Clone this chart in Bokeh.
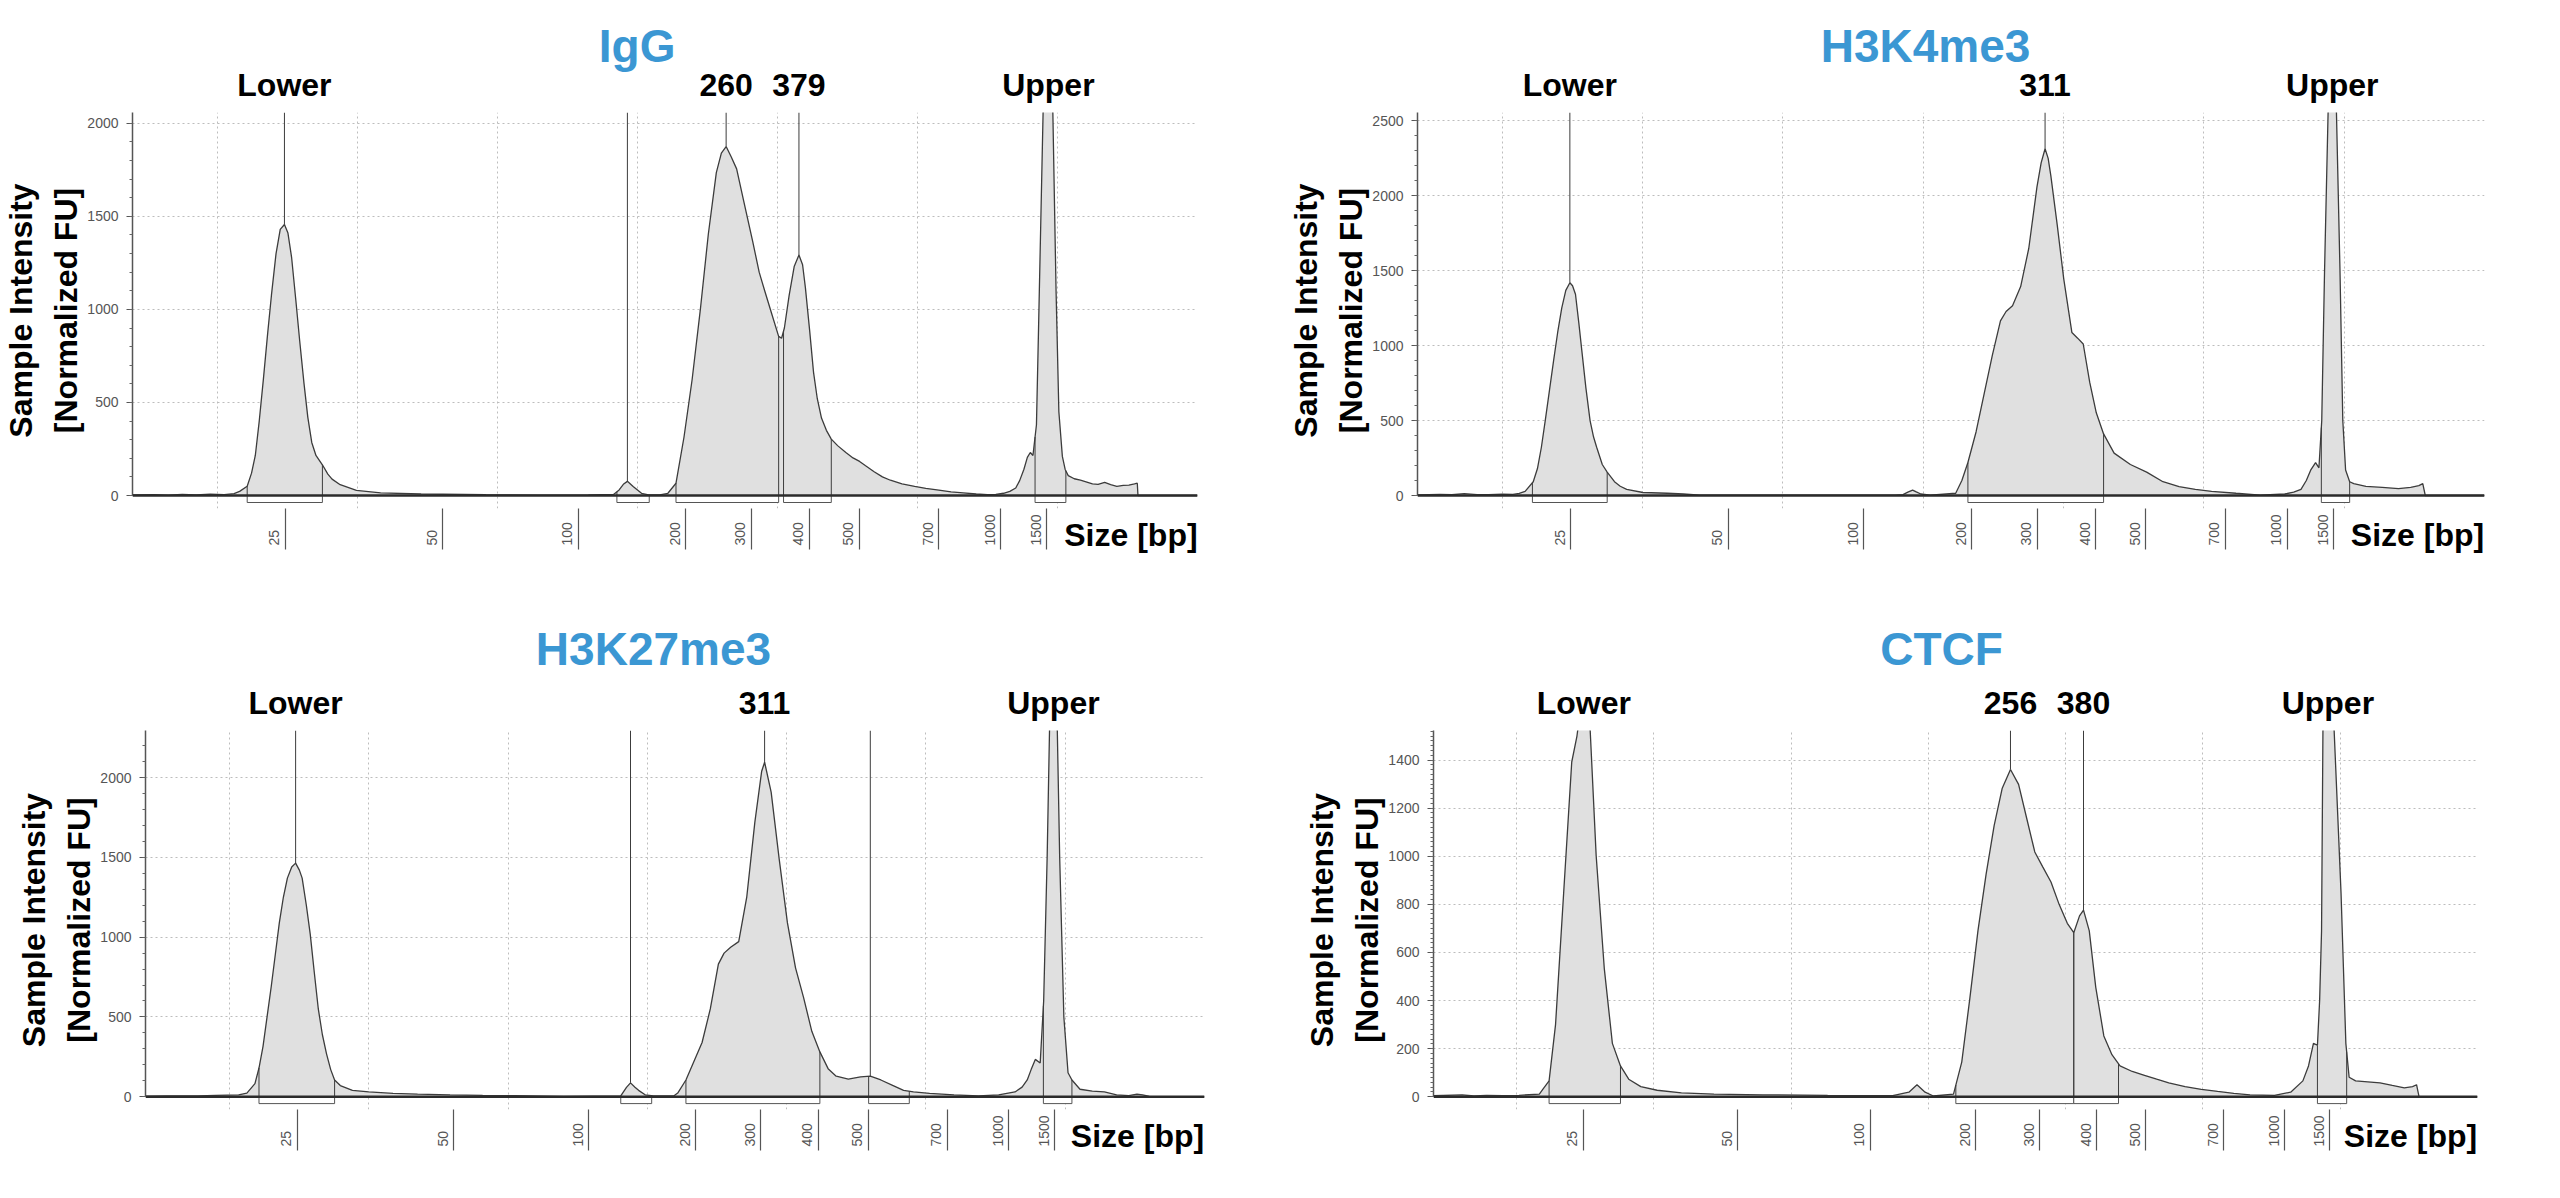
import math

import numpy as np
from bokeh.embed import file_html
from bokeh.layouts import column, row
from bokeh.models import FixedTicker, LinearAxis, Range1d, SingleIntervalTicker, Span
from bokeh.plotting import figure
from bokeh.resources import INLINE

FONT = "Liberation Sans"
TITLE_BLUE = "#3b97d3"
TRACE = "#3c3c3c"
T_START, T_END = 3.95, 80.0

# ladder: fragment size (bp) and its migration position on the time axis
LADDER_BP = [25, 50, 100, 200, 300, 400, 500, 700, 1000, 1500]
LADDER_TIME = [14.86, 26.1, 35.77, 43.45, 48.12, 52.28, 55.84, 61.52, 65.95, 69.25]

IGG_TIME = [3.95, 5.5, 6.5, 7.5, 8.5, 9.5, 10.5, 11.2, 11.6, 12.14, 12.45, 12.72, 13.0, 13.29,
            13.6, 13.87, 14.2, 14.5, 14.8, 15.05, 15.31, 15.6, 15.89, 16.2, 16.47, 16.75, 17.05,
            17.51, 17.9, 18.2, 18.78, 19.94, 21.67, 24.56, 29.18, 33.0, 36.5, 38.3, 38.7, 39.0,
            39.29, 39.7, 40.3, 40.8, 41.6, 42.18, 42.76, 43.33, 43.91, 44.49, 45.07, 45.64, 46.0,
            46.34, 46.7, 47.09, 47.6, 48.24, 48.7, 49.11, 49.6, 50.09, 50.3, 50.5, 50.84, 51.2,
            51.54, 51.8, 52.0, 52.3, 52.58, 52.85, 53.15, 53.5, 53.85, 54.3, 54.89, 55.4, 55.87,
            56.3, 56.91, 57.5, 58.07, 58.9, 59.8, 60.6, 61.53, 62.4, 63.27, 64.2, 65.0, 65.6,
            66.15, 66.6, 67.02, 67.3, 67.6, 67.85, 68.06, 68.25, 68.5, 68.65, 69.35, 69.9, 70.1,
            70.35, 70.55, 70.77, 71.2, 71.64, 72.1, 72.5, 72.9, 73.37, 73.8, 74.24, 74.7, 75.1,
            75.5, 75.7, 75.75, 80.0]
IGG_FU = [3, 4, 2, 6, 3, 7, 5, 10, 22, 50, 120, 215, 400, 620,
          870, 1075, 1300, 1430, 1456, 1410, 1280, 1060, 830, 600, 420, 285, 215,
          165, 115, 88, 58, 27, 14, 8, 4, 2, 3, 6, 30, 60,
          76, 48, 12, 3, 3, 12, 66, 313, 622, 993, 1405, 1735, 1840,
          1875, 1820, 1755, 1580, 1364, 1200, 1096, 975, 855, 845, 900, 1075, 1230,
          1292, 1240, 1117, 890, 663, 520, 416, 350, 303, 268, 231, 202, 183,
          160, 128, 100, 82, 62, 49, 38, 29, 20, 14, 8, 4, 6,
          12, 22, 40, 80, 140, 205, 231, 215, 380, 900, 3400, 1100, 450,
          210, 140, 107, 90, 82, 72, 62, 60, 70, 58, 49, 54, 56,
          62, 66, 0, 0]
IGG_PEAK_TIME = [14.8, 39.29, 46.34, 51.54, 69.35]
IGG_PEAK_LABEL = ["Lower", "", "260", "379", "Upper"]
IGG_REGION_START = [12.14, 38.54, 42.76, 50.44, 68.4]
IGG_REGION_END = [17.51, 40.85, 50.09, 53.85, 70.6]

H3K4_TIME = [3.95, 5.54, 6.4, 7.28, 8.2, 9.02, 10.0, 10.75, 11.2, 11.62, 12.2, 12.5, 12.78,
             13.07, 13.36, 13.65, 13.94, 14.23, 14.52, 14.81, 15.0, 15.21, 15.45, 15.67, 15.95,
             16.25, 16.5, 16.72, 17.12, 17.47, 17.99, 18.4, 18.86, 20.02, 21.75, 22.91, 24.07,
             30.0, 38.0, 38.55, 38.9, 39.24, 39.5, 39.82, 40.5, 42.31, 42.75, 43.18, 43.76, 44.34,
             44.92, 45.5, 45.9, 46.36, 46.94, 47.52, 48.1, 48.4, 48.68, 48.9, 49.09, 49.55, 50.01,
             50.59, 51.0, 51.4, 51.86, 52.33, 52.85, 53.6, 54.76, 55.92, 57.08, 58.23, 59.39,
             60.55, 62.29, 64.02, 65.76, 66.4, 66.92, 67.3, 67.61, 67.96, 68.2, 68.4, 68.6, 69.15,
             69.7, 69.9, 70.1, 70.39, 70.68, 71.55, 72.71, 73.87, 74.74, 75.32, 75.6, 75.78, 80.0]
H3K4_FU = [4, 8, 5, 12, 6, 6, 9, 8, 14, 28, 92, 180, 322,
           510, 705, 900, 1088, 1250, 1369, 1420, 1400, 1343, 1150, 960, 720,
           500, 390, 322, 207, 156, 92, 62, 41, 20, 15, 10, 3,
           2, 3, 6, 22, 36, 24, 10, 3, 15, 100, 220, 424, 680,
           935, 1165, 1228, 1267, 1394, 1650, 2058, 2220, 2314, 2250, 2135, 1803, 1446,
           1088, 1050, 1011, 756, 552, 411, 283, 207, 156, 92, 59, 41,
           28, 15, 3, 10, 22, 41, 100, 169, 220, 185, 500, 1500, 3800,
           1500, 500, 170, 92, 79, 61, 54, 46, 54, 66, 79, 0, 0]
H3K4_PEAK_TIME = [14.81, 48.68, 69.15]
H3K4_PEAK_LABEL = ["Lower", "311", "Upper"]
H3K4_REGION_START = [12.14, 43.18, 68.37]
H3K4_REGION_END = [17.47, 52.85, 70.39]

H3K27_TIME = [3.95, 5.5, 7.72, 9.0, 10.64, 11.23, 11.81, 12.1, 12.39, 12.68, 12.98, 13.27, 13.56,
              13.85, 14.14, 14.45, 14.73, 15.0, 15.2, 15.5, 15.78, 16.07, 16.36, 16.65, 16.95,
              17.25, 17.53, 17.94, 18.81, 19.98, 21.73, 23.49, 25.82, 28.16, 30.49, 34.0, 38.08,
              38.49, 38.78, 39.1, 39.36, 39.83, 40.42, 41.88, 42.17, 42.76, 43.34, 43.92, 44.51,
              45.09, 45.5, 45.97, 46.55, 47.13, 47.71, 48.2, 48.41, 48.88, 49.46, 50.05, 50.63,
              51.21, 51.8, 52.38, 52.97, 53.55, 54.42, 55.3, 56.0, 56.76, 57.64, 58.39, 59.1,
              60.26, 62.01, 63.77, 65.22, 66.39, 66.9, 67.27, 67.55, 67.85, 68.2, 68.45, 68.7,
              69.15, 69.6, 69.9, 70.2, 70.48, 71.06, 71.94, 72.81, 73.69, 74.56, 75.15, 75.56,
              76.03, 80.0]
H3K27_FU = [3, 5, 5, 8, 12, 23, 82, 180, 316, 500, 691, 890, 1089,
            1250, 1370, 1440, 1464, 1420, 1370, 1200, 1019, 780, 550, 390, 269,
            170, 105, 70, 40, 30, 21, 16, 12, 9, 7, 2, 5,
            59, 87, 60, 40, 12, 5, 5, 23, 105, 222, 340, 550,
            831, 900, 937, 972, 1253, 1721, 2040, 2096, 1909, 1487, 1089, 808,
            621, 410, 281, 176, 129, 110, 124, 129, 105, 70, 40, 30,
            21, 12, 5, 12, 30, 60, 105, 170, 234, 211, 600, 1500,
            3600, 1500, 500, 150, 105, 47, 35, 30, 12, 7, 16, 12,
            2, 0]
H3K27_PEAK_TIME = [14.73, 38.78, 48.41, 56.0, 69.15]
H3K27_PEAK_LABEL = ["Lower", "", "311", "", "Upper"]
H3K27_REGION_START = [12.1, 38.08, 42.76, 55.88, 68.43]
H3K27_REGION_END = [17.53, 40.3, 52.38, 58.8, 70.48]

CTCF_TIME = [3.95, 6.04, 6.9, 7.81, 9.0, 10.18, 11.66, 11.95, 12.37, 12.84, 13.43, 14.02, 14.4,
             14.9, 15.35, 15.8, 16.39, 16.98, 17.57, 18.17, 19.05, 20.24, 22.01, 24.38, 27.93,
             32.66, 37.4, 38.58, 39.17, 39.76, 40.36, 41.83, 42.43, 43.02, 43.61, 44.2, 44.79,
             45.38, 45.98, 46.57, 47.16, 47.75, 48.34, 48.93, 49.53, 50.12, 50.59, 51.01, 51.3,
             51.72, 52.19, 52.78, 53.37, 53.96, 54.85, 55.74, 56.63, 57.51, 58.7, 59.88, 61.07,
             62.25, 63.43, 65.21, 66.39, 67.28, 67.69, 68.05, 68.34, 68.5, 68.64, 68.75, 69.1,
             69.5, 70.06, 70.41, 70.65, 71.12, 72.01, 72.9, 73.79, 74.67, 75.27, 75.56, 75.74,
             80.0]
CTCF_FU = [4, 8, 3, 6, 4, 6, 11, 34, 66, 300, 846, 1392, 1500,
           1720, 1540, 1002, 534, 222, 128, 73, 42, 27, 16, 11, 8,
           6, 5, 19, 50, 19, 3, 11, 144, 409, 690, 924, 1127,
           1283, 1361, 1299, 1158, 1018, 955, 893, 799, 721, 682, 752, 776,
           690, 456, 253, 175, 128, 105, 89, 73, 58, 42, 31, 22,
           14, 8, 6, 19, 66, 128, 222, 214, 400, 690, 1600, 2800,
           1600, 846, 222, 81, 66, 62, 58, 47, 37, 42, 50, 0,
           0]
CTCF_PEAK_TIME = [14.9, 45.98, 51.3, 69.1]
CTCF_PEAK_LABEL = ["Lower", "256", "380", "Upper"]
CTCF_REGION_START = [12.37, 42.0, 50.59, 68.34]
CTCF_REGION_END = [17.57, 50.59, 53.85, 70.47]


def bare_axis(ticks, labels, **kw):
    """Axis that only shows text labels at the given positions."""
    return LinearAxis(ticker=FixedTicker(ticks=list(ticks)),
                      major_label_overrides=dict(zip(ticks, labels)),
                      axis_line_color=None, major_tick_line_color=None,
                      minor_tick_line_color=None, major_tick_in=0, major_tick_out=0,
                      major_label_text_font=FONT, **kw)


def make_panel(name, time, fu, peak_time, peak_label, reg_start, reg_end, y_top, y_step,
               y_minor, height, left, top, baseline, frame_w, title_standoff):
    plot_px = baseline - top
    per_px = y_top / plot_px
    frame_h = plot_px + 13
    y_start = -13 * per_px
    width = left + frame_w + 2
    p = figure(width=width, height=height, output_backend="svg", toolbar_location=None,
               x_range=Range1d(T_START, T_END), y_range=Range1d(y_start, y_top),
               min_border_left=left, min_border_top=top, min_border_right=2,
               min_border_bottom=height - top - frame_h)
    p.outline_line_color = None

    # grid: regular in migration time, horizontal at intensity ticks
    p.xgrid.ticker = SingleIntervalTicker(interval=10, num_minor_ticks=0)
    for g in (p.xgrid, p.ygrid):
        g.grid_line_color = "#bdbdbd"
        g.grid_line_dash = "2 3"
        g.grid_line_width = 1

    yax = p.yaxis[0]
    yax.ticker = SingleIntervalTicker(interval=y_step, num_minor_ticks=y_minor)
    yax.bounds = (0, y_top)
    yax.axis_line_color = "#555555"
    yax.axis_line_width = 1.5
    yax.major_tick_in = 0
    yax.major_tick_out = 6
    yax.major_tick_line_color = "#555555"
    yax.minor_tick_in = 0
    yax.minor_tick_out = 3
    yax.minor_tick_line_color = "#666666"
    yax.major_label_text_font = FONT
    yax.major_label_text_font_size = "14px"
    yax.major_label_text_color = "#555555"
    yax.major_label_standoff = 8
    yax.axis_label = "Sample Intensity\n[Normalized FU]"
    yax.axis_label_text_font = FONT
    yax.axis_label_text_font_size = "32px"
    yax.axis_label_text_font_style = "bold"
    yax.axis_label_text_color = "black"
    yax.axis_label_text_line_height = 1.25
    yax.axis_label_standoff = 0

    # size ladder: tick lines on the main x axis, labels on a second axis beside them
    xax = p.xaxis[0]
    xax.ticker = FixedTicker(ticks=LADDER_TIME)
    xax.major_label_overrides = {t: "" for t in LADDER_TIME}
    xax.major_label_text_font_size = "0px"
    xax.major_label_standoff = 0
    xax.axis_line_color = None
    xax.major_tick_in = 0
    xax.major_tick_out = 41
    xax.major_tick_line_color = "#555555"
    xax.major_tick_line_width = 1.2
    xax.minor_tick_line_color = None

    px_unit = frame_w / (T_END - T_START)
    shifted = [round(t - 11 / px_unit, 4) for t in LADDER_TIME]
    p.add_layout(bare_axis(shifted, [str(b) for b in LADDER_BP],
                           major_label_orientation=-1.5 * math.pi, major_label_standoff=-4,
                           major_label_text_font_size="14px",
                           major_label_text_color="#555555"), "below")
    # axis name, right-aligned with the plot's right edge (text is ~133 px wide)
    size_x = round(T_END - 67 / px_unit, 4)
    p.add_layout(bare_axis([size_x], ["Size [bp]"], major_label_standoff=-63,
                           major_label_text_font_size="32px",
                           major_label_text_font_style="bold",
                           major_label_text_color="black"), "below")

    # peak names just above the plot, sample name above them
    named = [(t, s) for t, s in zip(peak_time, peak_label) if s]
    p.add_layout(bare_axis([t for t, _ in named], [s for _, s in named],
                           major_label_standoff=10, major_label_text_font_size="32px",
                           major_label_text_font_style="bold",
                           major_label_text_color="black"), "above")
    title_x = round(T_START + 508 / px_unit, 4)
    p.add_layout(bare_axis([title_x], [name], major_label_standoff=title_standoff,
                           major_label_text_font_size="46px",
                           major_label_text_font_style="bold",
                           major_label_text_color=TITLE_BLUE), "above")

    # trace
    p.varea(x=time, y1=0, y2=fu, fill_color="#e0e0e0")
    p.line(time, fu, line_color=TRACE, line_width=1.3)

    # peak integration regions
    edges = list(reg_start) + list(reg_end)
    p.segment(x0=edges, y0=0, x1=edges, y1=np.interp(edges, time, fu),
              line_color=TRACE, line_width=1)
    p.quad(left=reg_start, right=reg_end, bottom=-7 * per_px, top=0,
           fill_color="white", line_color="#555555", line_width=1)

    # peak markers
    apex = np.minimum(np.interp(peak_time, time, fu), y_top)
    p.segment(x0=peak_time, y0=apex, x1=peak_time, y1=y_top, line_color=TRACE, line_width=1)

    p.add_layout(Span(location=0, dimension="width", line_color="#2b2b2b", line_width=2.5))
    return p


p1 = make_panel("IgG", IGG_TIME, IGG_FU, IGG_PEAK_TIME, IGG_PEAK_LABEL, IGG_REGION_START,
                IGG_REGION_END, 2058, 500, 5,
                height=607, left=125, top=112, baseline=495, frame_w=1072, title_standoff=-8)
p2 = make_panel("H3K4me3", H3K4_TIME, H3K4_FU, H3K4_PEAK_TIME, H3K4_PEAK_LABEL,
                H3K4_REGION_START, H3K4_REGION_END, 2556, 500, 5,
                height=607, left=1425 - 8 - p1.width, top=112, baseline=495, frame_w=1067,
                title_standoff=-8)
p3 = make_panel("H3K27me3", H3K27_TIME, H3K27_FU, H3K27_PEAK_TIME, H3K27_PEAK_LABEL,
                H3K27_REGION_START, H3K27_REGION_END, 2295, 500, 5,
                height=573, left=145, top=123, baseline=496, frame_w=1059, title_standoff=7)
p4 = make_panel("CTCF", CTCF_TIME, CTCF_FU, CTCF_PEAK_TIME, CTCF_PEAK_LABEL,
                CTCF_REGION_START, CTCF_REGION_END, 1523, 200, 10,
                height=573, left=1441 - 8 - p3.width, top=123, baseline=496, frame_w=1044,
                title_standoff=7)

layout = column(row(p1, p2), row(p3, p4))

with open("out.html", "w") as f:
    f.write(file_html(layout, INLINE))
